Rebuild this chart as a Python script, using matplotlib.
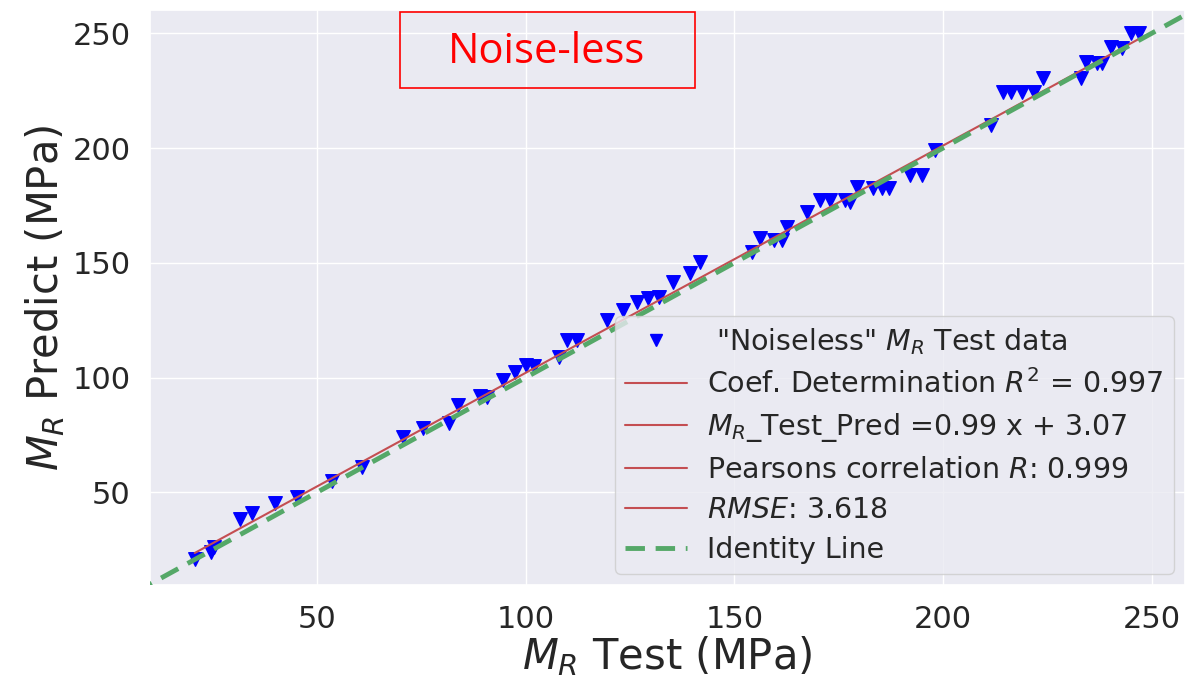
import matplotlib
matplotlib.use("Agg")
import matplotlib.pyplot as plt
import seaborn as sns
import numpy as np
from matplotlib.lines import Line2D
from matplotlib.patches import Rectangle

sns.set_theme(style="darkgrid")
plt.rcParams['font.family'] = ['DejaVu Sans']

# Test vs predicted values (MPa)
test_vals = [20.7, 24.5, 25.2, 31.5, 34.4, 40.0, 45.2, 53.6, 60.8, 70.6, 75.4, 81.7,
             83.8, 89.0, 90.8, 94.6, 97.5, 100.0, 102.0, 108.0, 110.0, 112.3, 119.5,
             123.4, 126.7, 129.4, 132.0, 135.4, 139.4, 141.8, 154.3, 156.2, 159.4,
             161.5, 162.7, 167.5, 170.6, 173.0, 176.6, 177.8, 179.5, 183.3, 185.5,
             187.0, 192.2, 195.0, 198.2, 211.4, 214.3, 216.2, 219.0, 221.7, 224.0,
             233.0, 234.2, 237.0, 238.2, 240.2, 243.0, 245.0, 247.0]
pred_vals = [21.0, 24.0, 26.0, 38.5, 41.0, 45.5, 48.0, 55.0, 61.0, 74.0, 78.0, 80.4,
             88.0, 92.0, 91.5, 99.0, 102.6, 105.5, 105.0, 109.0, 116.5, 116.5, 125.0,
             129.6, 133.0, 134.5, 135.0, 141.7, 145.6, 150.4, 154.8, 161.0, 160.0,
             160.0, 165.6, 172.0, 177.4, 177.4, 177.4, 176.5, 183.0, 182.6, 182.6,
             182.6, 188.3, 188.3, 199.0, 210.0, 224.3, 224.3, 224.3, 224.3, 230.4,
             230.4, 237.4, 237.0, 237.0, 244.0, 243.5, 250.0, 250.0]
slope = 0.99
intercept = 3.07
identity_range = [0, 270]
ticks = [50, 100, 150, 200, 250]

fig = plt.figure(figsize=(11.91, 6.91), dpi=100)
ax = fig.add_axes([0.126, 0.153, 0.869, 0.832])

x = np.array(test_vals)
y = np.array(pred_vals)
ax.scatter(x, y, marker='v', s=95, color='blue', zorder=3)
xf = np.array([x.min(), x.max()])
ax.plot(xf, slope * xf + intercept, color='#c44e52', lw=1.5, zorder=4)
ax.plot(identity_range, identity_range, color='#55a868', lw=3.5, ls=(0, (4, 2.2)), zorder=5)

ax.set_xlim(10, 258)
ax.set_ylim(9.5, 260)
ax.set_xticks(ticks)
ax.set_yticks(ticks)
ax.tick_params(labelsize=22, colors='#262626', pad=8)
ax.set_xlabel(r'$M_R$ Test (MPa)', fontsize=30, color='#262626', labelpad=0)
ax.set_ylabel(r'$M_R$ Predict (MPa)', fontsize=30, color='#262626', labelpad=4)

red = '#c44e52'
handles = [
    Line2D([], [], marker='v', ls='none', color='blue', markersize=8),
    Line2D([], [], color=red, lw=1.5),
    Line2D([], [], color=red, lw=1.5),
    Line2D([], [], color=red, lw=1.5),
    Line2D([], [], color=red, lw=1.5),
    Line2D([], [], color='#55a868', lw=3.5, ls=(0, (4, 2.2))),
]
labels = [
    r' "Noiseless" $M_R$ Test data',
    r'Coef. Determination $R^2$ = 0.997',
    r'$M_R$_Test_Pred =0.99 x + 3.07',
    r'Pearsons correlation $R$: 0.999',
    r'$RMSE$: 3.618',
    'Identity Line',
]
leg = ax.legend(handles, labels, loc='lower right', fontsize=20.5, frameon=True,
                handlelength=2.2, handletextpad=0.7, borderaxespad=0.4,
                labelspacing=0.42, borderpad=0.35)
leg.get_frame().set_facecolor('#eaeaf2')
leg.get_frame().set_edgecolor('#cccccc')

# Annotation box
fig.patches.append(Rectangle((400 / 1191, 1 - 88 / 691), 295 / 1191, 76 / 691,
                             transform=fig.transFigure, fill=False, edgecolor='red', lw=1.2))
fig.text(547 / 1191, 1 - 52 / 691, 'Noise-less', color='red', fontsize=30,
         family='Open Sans', ha='center', va='center')

fig.savefig('out.png', dpi=100)
